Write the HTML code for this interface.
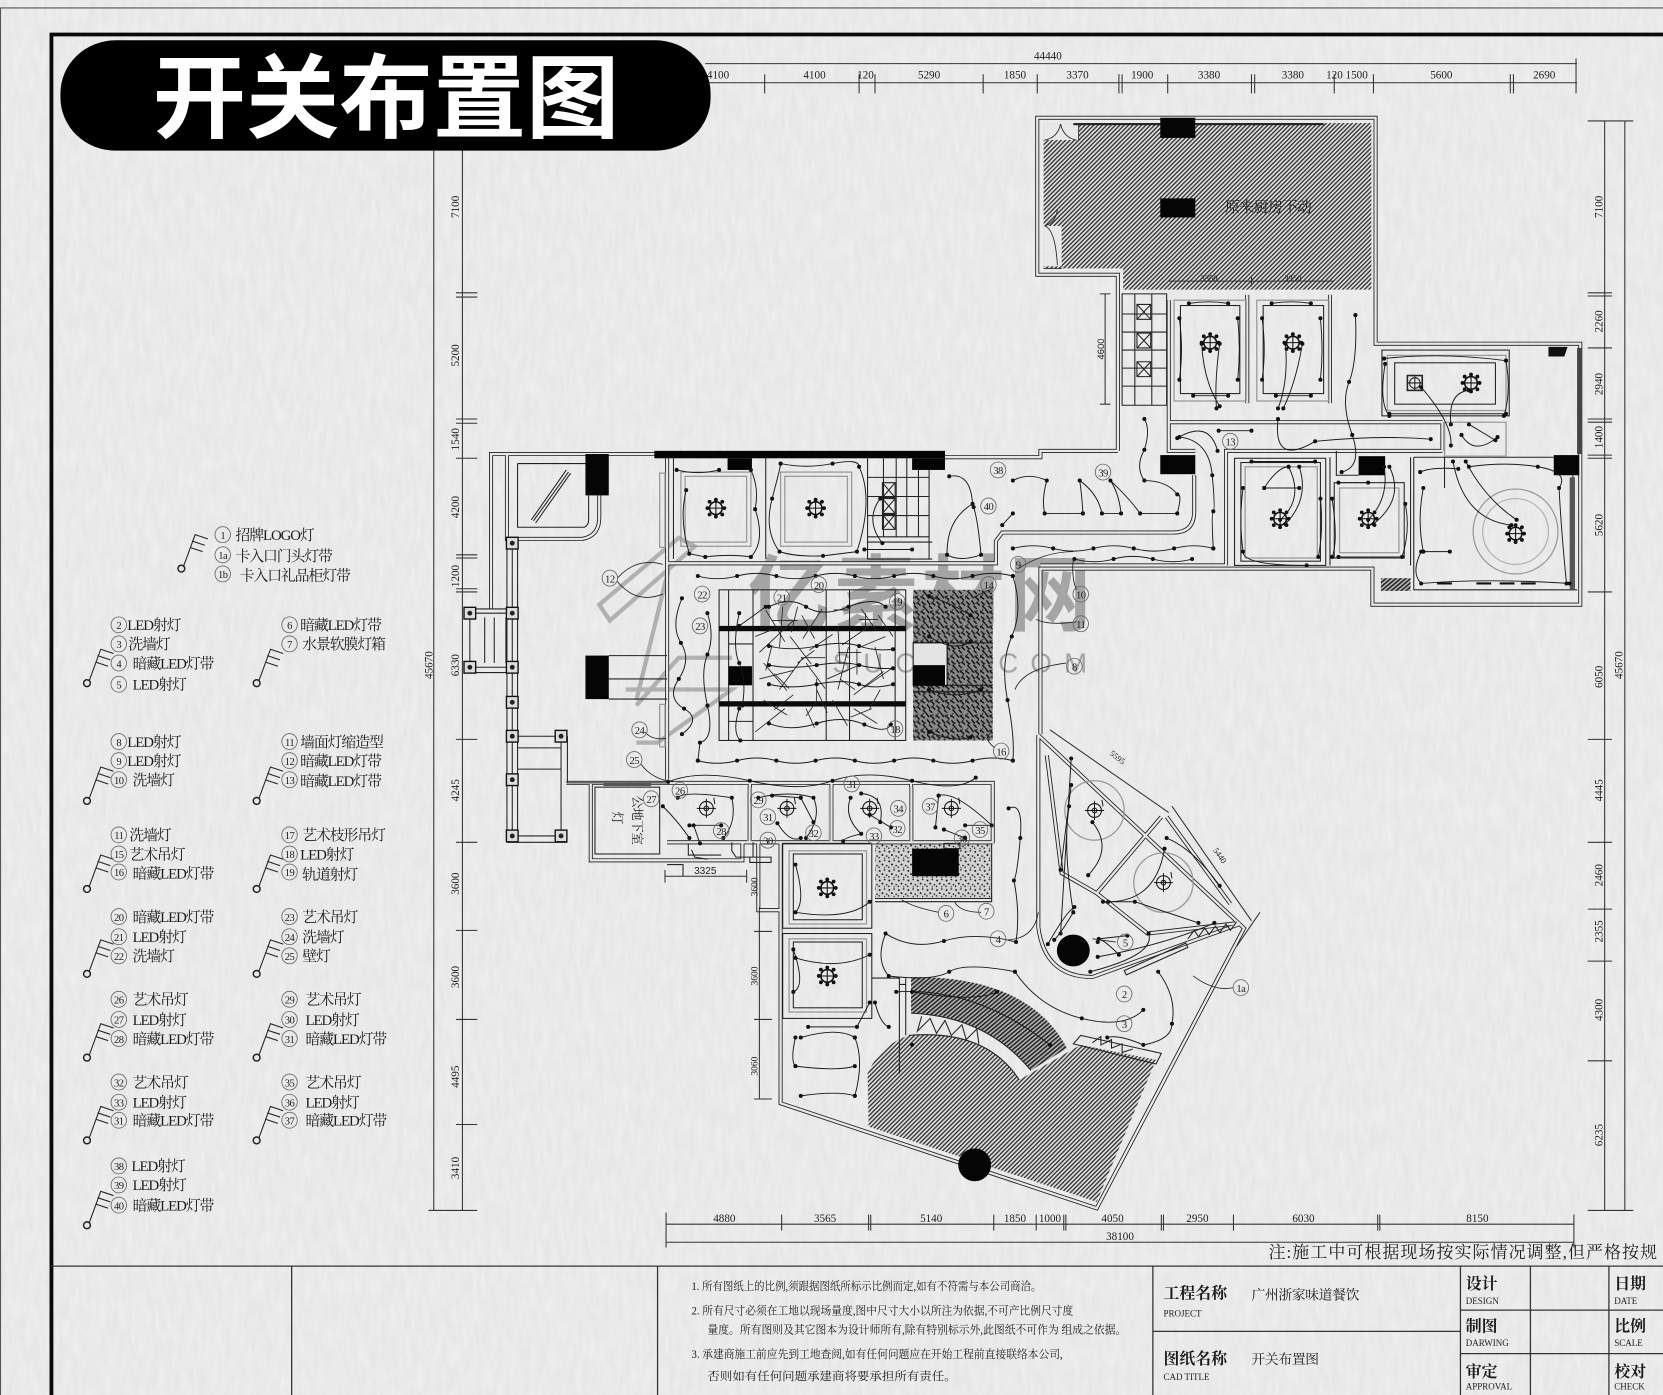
<!DOCTYPE html>
<html><head><meta charset="utf-8"><title>开关布置图</title>
<style>
html,body{margin:0;padding:0;background:#ececec;overflow:hidden}
svg{display:block;filter:blur(.35px)}
text{font-family:"Liberation Serif","Noto Serif CJK SC",serif;fill:#1c1c1c}
.d{font-family:"Liberation Sans","Noto Sans CJK SC",sans-serif;font-size:10.5px;fill:#222;text-anchor:middle}
.l{font-size:14px;letter-spacing:-1px}
.n{font-size:10px;text-anchor:middle;letter-spacing:-.5px}
.w{fill:none;stroke:#1a1a1a;stroke-width:.9;marker-start:url(#dot);marker-mid:url(#dot);marker-end:url(#dot)}
.p{fill:none;stroke:#222;stroke-width:.8}
.t{fill:none;stroke:#222;stroke-width:1}
.g{fill:none;stroke:#999;stroke-width:1.2}
.dm{fill:none;stroke:#333;stroke-width:1}
.tk{font-family:"Noto Sans CJK SC",sans-serif;font-weight:700;font-size:15px}
.sm{font-family:"Liberation Sans",sans-serif;font-size:8.5px;fill:#222}
.nt{font-size:10.5px;fill:#333}
</style></head><body>
<svg xmlns="http://www.w3.org/2000/svg" width="1663" height="1395" viewBox="0 0 1568 1315" preserveAspectRatio="none">
<defs>
<marker id="dot" markerUnits="userSpaceOnUse" markerWidth="5" markerHeight="5" refX="2.5" refY="2.5"><circle cx="2.5" cy="2.5" r="1.9" fill="#111"/></marker>
<pattern id="h1" width="2.9" height="2.9" patternUnits="userSpaceOnUse" patternTransform="rotate(-45)"><rect width="2.9" height="2.9" fill="#dcdcdc"/><rect width="2.9" height="1.25" fill="#333"/></pattern>
<pattern id="h2" width="3" height="3" patternUnits="userSpaceOnUse" patternTransform="rotate(-40)"><rect width="3" height="3" fill="#b4b4b4"/><rect width="3" height="1.45" fill="#222"/></pattern>
<pattern id="tx" width="14" height="14" patternUnits="userSpaceOnUse"><rect width="14" height="14" fill="#8a8a8a"/><path d="M0 2l4 3M5 0l3 4M9 2l4 4M1 7l3 3M6 6l3 4M11 8l3 3M2 11l3 3M8 11l3 3" stroke="#0a0a0a" stroke-width="1.3"/><path d="M3 0l-3 4M12 1l-3 3M5 9l-3 3M13 6l-3 3" stroke="#222" stroke-width=".9"/></pattern>
<pattern id="sp" width="9" height="9" patternUnits="userSpaceOnUse"><rect width="9" height="9" fill="#d2d2d2"/><circle cx="1.5" cy="2" r=".9" fill="#111"/><circle cx="6" cy="1" r=".8" fill="#222"/><circle cx="4" cy="5" r=".9" fill="#111"/><circle cx="8" cy="6" r=".8" fill="#222"/><circle cx="1" cy="7.5" r=".7" fill="#111"/><circle cx="6" cy="8" r=".6" fill="#111"/></pattern>
<filter id="paper" x="0" y="0" width="100%" height="100%"><feTurbulence type="fractalNoise" baseFrequency=".2 .035" numOctaves="3" seed="8"/><feColorMatrix values="0 0 0 0 .7  0 0 0 0 .7  0 0 0 0 .7  .9 0 0 0 -.33"/></filter>
<filter id="paper2" x="0" y="0" width="100%" height="100%"><feTurbulence type="fractalNoise" baseFrequency=".16 .045" numOctaves="3" seed="21"/><feColorMatrix values="0 0 0 0 1  0 0 0 0 1  0 0 0 0 1  .9 0 0 0 -.33"/></filter>
<ellipse id="c" cx="0" cy="0" rx="7.3" ry="7.5" fill="none" stroke="#666" stroke-width=".8"/>
<g id="sym" fill="none" stroke="#222" stroke-width="1"><circle r="3.2" stroke-width="1.4"/><path d="M2 -2L13 -32L25 -28M10 -26L22 -22M8 -20L20 -16"/></g>
<g id="ch"><circle r="6" fill="none" stroke="#111" stroke-width="1.5"/><path d="M-8 0H8M0 -8V8" stroke="#111" stroke-width="1"/><circle r="1.8" cx="8" fill="#111"/><circle r="1.8" cx="-8" fill="#111"/><circle r="1.8" cy="8" fill="#111"/><circle r="1.8" cy="-8" fill="#111"/><circle r="1.8" cx="6" cy="6" fill="#111"/><circle r="1.8" cx="-6" cy="6" fill="#111"/><circle r="1.8" cx="6" cy="-6" fill="#111"/><circle r="1.8" cx="-6" cy="-6" fill="#111"/></g>
<g id="sc"><circle r="6.5" fill="none" stroke="#111" stroke-width="1"/><circle r="2.2" fill="none" stroke="#111"/><path d="M-9 0H9M0 -9V9M7 -10l1 6" stroke="#111" stroke-width=".9"/></g>
<g id="pt"><rect x="-5.5" y="-5.5" width="11" height="11" fill="#ddd" stroke="#111" stroke-width="1.3"/><circle r="2.3" fill="#222"/></g>
<path id="wl" d="M1054 425V259H978V111H1297V324H1490V570H1294V536H981V692M1054 425H981V431H891M617 428H463V574M478 428V508H549Q565 505 565 488V467M1126 448V482Q1126 502 1106 502H945L939 510V531H629M1156 533V425H1360M1102 398H1360M1102 398V425H1127M629 431V735M534 738H936V795M557 738V811H700V795M629 794H936M736 795V1040L1034 1139L1173 875L979 693M979 693V874Q985 921 1030 921L1169 871M1095 770L1034 842L1082 880L1169 870M987 712L1001 823L1034 842M1100 770L1160 852M707 738V794M784 738V794M859 738V794M715 795V858H736M1156 533H981M1176 278V380M1102 283V425M1254 278V380M1360 398V425"/>
</defs>
<rect width="1568" height="1315" fill="#e9e9e9"/>
<rect width="1568" height="1315" filter="url(#paper)" opacity=".5"/>
<rect width="1568" height="1315" filter="url(#paper2)" opacity=".6"/>

<!-- watermark -->
<g opacity=".5" fill="none" stroke="#777" stroke-width="4"><path d="M565 570L640 507L655 515L575 585ZM565 570L575 585M632 530L600 660M600 665L640 620H690M590 650H690L620 700H600"/></g>
<text x="705" y="588" font-size="78" font-weight="700" style="font-family:'Noto Sans CJK SC',sans-serif;fill:#777" opacity=".6" letter-spacing="4">亿素材网</text>
<text x="785" y="634" font-size="26" style="font-family:'Liberation Sans',sans-serif;fill:#777" opacity=".6" textLength="240">SUCAI.COM</text>

<!-- frames -->
<path d="M0 7.5H1568M.5 7.5V1315" fill="none" stroke="#555" stroke-width="1"/>
<path d="M48.5 1315V32.5H1568" fill="none" stroke="#0a0a0a" stroke-width="3.6"/>

<!-- left dims -->
<path class="dm" d="M409 125V1141M436 125V1141M404 1141H450M430 276H450M430 280H450M430 395H450M430 399H450M430 432H450M430 523H450M430 526H450M430 555H450M430 558H450M430 697H450M430 794H450M430 877H450M430 961H450M430 1060H450"/>
<g class="d"><text transform="translate(433,195) rotate(-90)">7100</text><text transform="translate(433,335) rotate(-90)">5200</text><text transform="translate(433,414) rotate(-90)">1540</text><text transform="translate(433,478) rotate(-90)">4200</text><text transform="translate(433,543) rotate(-90)">1200</text><text transform="translate(433,627) rotate(-90)">6330</text><text transform="translate(433,745) rotate(-90)">4245</text><text transform="translate(433,833) rotate(-90)">3600</text><text transform="translate(433,921) rotate(-90)">3600</text><text transform="translate(433,1015) rotate(-90)">4495</text><text transform="translate(433,1101) rotate(-90)">3410</text><text transform="translate(408,627) rotate(-90)">45670</text></g>

<!-- top dims -->
<path class="dm" d="M665 60H1487M665 78H1487M721 70V88M810 70V88M825 70V88M927 70V88M978 70V88M1055 70V88M1058 70V88M1101 70V88M1180 70V88M1183 70V88M1258 70V88M1295 70V88M1424 70V88M1427 70V88M1486 55V88"/>
<g class="d"><text x="988" y="56">44440</text><text x="677" y="74">4100</text><text x="768" y="74">4100</text><text x="816" y="74">120</text><text x="876" y="74">5290</text><text x="957" y="74">1850</text><text x="1016" y="74">3370</text><text x="1077" y="74">1900</text><text x="1140" y="74">3380</text><text x="1219" y="74">3380</text><text x="1270" y="74">120 1500</text><text x="1359" y="74">5600</text><text x="1456" y="74">2690</text></g>

<!-- right dims -->
<path class="dm" d="M1513 114V1141M1532 114V1141M1497 114H1540M1497 276H1520M1497 279H1520M1497 328H1520M1497 395H1520M1497 398H1520M1497 429H1520M1497 432H1520M1497 558H1520M1497 697H1520M1497 794H1520M1497 857H1520M1497 906H1520M1497 1000H1520M1497 1141H1540"/>
<g class="d"><text transform="translate(1511,195) rotate(-90)">7100</text><text transform="translate(1511,303) rotate(-90)">2260</text><text transform="translate(1511,362) rotate(-90)">2940</text><text transform="translate(1511,412) rotate(-90)">1400</text><text transform="translate(1511,495) rotate(-90)">5620</text><text transform="translate(1511,638) rotate(-90)">6050</text><text transform="translate(1511,745) rotate(-90)">4445</text><text transform="translate(1511,825) rotate(-90)">2460</text><text transform="translate(1511,878) rotate(-90)">2355</text><text transform="translate(1511,952) rotate(-90)">4300</text><text transform="translate(1511,1070) rotate(-90)">6235</text><text transform="translate(1530,627) rotate(-90)">45670</text></g>

<!-- bottom dims -->
<path class="dm" d="M628 1154H1484M628 1171H1056M1056 1171H1484M628 1143V1176M737 1145V1160M819 1145V1160M821 1145V1160M937 1145V1160M977 1145V1160M1003 1145V1160M1005 1145V1160M1095 1145V1160M1097 1145V1160M1163 1145V1160M1299 1145V1160M1301 1145V1160M1484 1145V1176" stroke-width="1.3"/>
<g class="d"><text x="683" y="1152">4880</text><text x="778" y="1152">3565</text><text x="878" y="1152">5140</text><text x="957" y="1152">1850</text><text x="990" y="1152">1000</text><text x="1049" y="1152">4050</text><text x="1129" y="1152">2950</text><text x="1229" y="1152">6030</text><text x="1393" y="1152">8150</text><text x="1056" y="1169">38100</text></g>
<text x="1196" y="1186" font-size="16" letter-spacing="1">注:施工中可根据现场按实际情况调整,但严格按规</text>

<!-- hatches -->
<path d="M984 116H1293V273H1059V253H984Z" fill="url(#h1)"/>
<rect x="984" y="116" width="33" height="16" fill="#e8e8e8"/><rect x="984" y="213" width="17" height="38" fill="#e8e8e8"/>
<path d="M818 1012Q830 985 857 976Q930 970 961 1018L1019 985L1090 999L1034 1133L819 1062Z" fill="url(#h1)"/>
<path d="M859 921Q970 920 1006 988L972 1009Q930 958 859 955Z" fill="url(#h2)"/>
<path class="t" d="M859 955Q930 958 972 1009M857 976Q930 970 961 1018M869 958l-4 14 12-12 6 14 8-12 6 14 10-10 4 14 10-10 2 14M1019 976L1095 993L1090 1003L1012 984ZM1030 983l8-6 0 8 10-5 0 8 10-4 0 8 10-3"/>
<rect x="861" y="556" width="75" height="142" fill="url(#tx)"/>
<rect x="825" y="795" width="110" height="52" fill="url(#sp)"/>
<rect x="1302" y="545" width="28" height="12" fill="url(#h2)"/>

<!-- walls -->
<use href="#wl" fill="none" stroke="#1c1c1c" stroke-width="3.8"/>
<use href="#wl" fill="none" stroke="#e8e8e8" stroke-width="2.2"/>

<!-- kitchen fixtures -->
<rect x="1012" y="116" width="236" height="2" fill="#222"/>
<path class="p" d="M985 132Q997 130 1000 117M1015 132Q1003 130 1000 117M1017 116V132M985 213Q995 210 997 198M985 213Q995 216 997 250M984 253H1001"/>
<text x="1155" y="200" font-size="14" letter-spacing="-.4">原来厨房不动</text>
<path class="dm" d="M1102 265H1258M1180 260V270"/>
<g class="d" style="font-size:8px"><text x="1140" y="265">3350</text><text x="1219" y="265">3350</text></g>

<!-- stairs-like grid near kitchen -->
<path class="t" d="M1058 277H1100V382H1058ZM1058 296H1100M1058 313H1100M1058 330H1100M1058 347H1100M1058 364H1100M1070 277V382M1086 277V382"/>
<path class="t" stroke-width="1.2" d="M1072 287h13v14h-13zm0 0l13 14m0-14l-13 14M1072 314h13v14h-13zm0 0l13 14m0-14l-13 14M1072 341h13v14h-13zm0 0l13 14m0-14l-13 14"/>
<path class="dm" d="M1042 277V381M1037 277h10M1037 381h10"/>
<text class="d" transform="translate(1041,329) rotate(-90)" style="font-size:9px">4600</text>

<!-- upper rooms -->
<rect x="1107" y="283" width="68" height="95" class="g" stroke-width="2"/><rect x="1113" y="288" width="56" height="83" class="t" stroke-width="1.5"/>
<rect x="1185" y="283" width="68" height="95" class="g"/><rect x="1191" y="288" width="57" height="83" class="t"/>
<rect x="1303" y="330" width="120" height="62" class="t"/><rect x="1308" y="335" width="112" height="52" class="g"/><rect x="1315" y="342" width="95" height="39" class="t" stroke-width="1.5"/>
<rect x="1164" y="432" width="86" height="101" class="t"/><rect x="1170" y="436" width="75" height="93" class="t" stroke-width="1.5"/><rect x="1174" y="440" width="68" height="86" class="g"/>
<rect x="1258" y="455" width="66" height="71" class="t" stroke-width="1.5"/><rect x="1263" y="460" width="56" height="61" class="g"/>
<path class="t" d="M1333 431V556H1487M1333 431H1465M1483 448V556M1254 431V533M1330 431V533M1260 425V448H1281M1362 398V460" stroke-width="1.2"/>
<rect x="1487" y="328" width="4" height="100" fill="#444"/>
<rect x="1480" y="450" width="5" height="106" fill="#555"/>
<circle cx="1429" cy="501" r="40" class="g"/><circle cx="1429" cy="501" r="31" fill="none" stroke="#aaa"/>
<use href="#ch" x="1141" y="323"/><use href="#ch" x="1219" y="323"/><use href="#ch" x="1387" y="361"/><use href="#ch" x="1207" y="489"/><use href="#ch" x="1290" y="489"/><use href="#ch" x="1429" y="503"/>
<g fill="none" stroke="#222"><rect x="1327" y="354" width="14" height="14" stroke-width="1.5"/><circle cx="1334" cy="361" r="5"/><path d="M1327 361h14M1334 354v14"/></g>
<path d="M1460 327h18l-3 9h-15z" fill="#111"/>
<path class="g" d="M1362 398H1420V430H1362Z"/>
<path d="M1355 550h14M1392 550h14M1414 550h14M1434 550h14" stroke="#111" stroke-width="2"/>

<!-- left entrance -->
<path class="t" d="M488 437H553M488 437V497H551Q555 495 555 490V467"/>
<path class="t" d="M501 490L534 443M505 493L538 446M503 491L536 445"/>
<path class="t" stroke-width="1.2" d="M478 508V794M488 508V794M483 512V788M443 578V629M483 578H443M483 629H443M443 574H483M443 634H483M457 582V625M466 582V625M477 582V625M488 694H529M488 705H529M488 725H529M488 788H529M488 694V794M529 694V794M535 694V738H629M529 788V794M478 794H535"/>
<use href="#pt" x="483" y="512"/><use href="#pt" x="483" y="578"/><use href="#pt" x="443" y="578"/><use href="#pt" x="443" y="629"/><use href="#pt" x="483" y="629"/><use href="#pt" x="483" y="662"/><use href="#pt" x="483" y="694"/><use href="#pt" x="483" y="735"/><use href="#pt" x="483" y="788"/><use href="#pt" x="529" y="788"/><use href="#pt" x="529" y="694"/>
<path class="t" d="M574 618H629M574 640H629M574 659H629"/>
<rect x="622" y="446" width="5" height="70" class="g"/><rect x="622" y="664" width="5" height="40" class="g"/>

<!-- room row top -->
<rect x="642" y="445" width="66" height="70" class="g"/><rect x="646" y="449" width="58" height="62" class="g" stroke-width=".8"/>
<rect x="736" y="445" width="67" height="70" class="g"/><rect x="740" y="449" width="59" height="62" class="g" stroke-width=".8"/>
<path class="t" d="M722 432V527M818 432V527M635 432V527"/>
<use href="#ch" x="675" y="479"/><use href="#ch" x="769" y="479"/>
<path class="t" d="M818 450H876M818 468H876M818 486H876M818 506H876M833 432V506M845 432V506M855 432V506M866 432V506M876 432V527M818 511H879M818 527H879"/>
<path class="t" stroke-width="1.3" d="M832 455h12v14h-12zm0 0l12 14m0-14l-12 14M832 470h12v14h-12zm0 0l12 14m0-14l-12 14M832 485h12v14h-12zm0 0l12 14m0-14l-12 14"/>

<!-- main hall -->
<rect x="678" y="556" width="176" height="142" class="t"/>
<path class="t" d="M687 556V698M710 556V698M779 556V698M801 556V698M844 556V698M687 607H710M710 607V628M687 680H710"/>
<rect x="678" y="590" width="176" height="5" fill="#0a0a0a"/><rect x="678" y="661" width="176" height="5" fill="#0a0a0a"/>
<path class="t" d="M861 606H936M861 646H936M861 652H936"/><rect x="861" y="606" width="32" height="40" fill="#e4e4e4" stroke="#111"/>
<path class="p" d="M722 575l18 30M712 600l25-10M738 572l-3 38M748 585l-32 30M720 625l22 26M716 640l32-8M745 600l20 26M735 650l22-30M756 580l12 22M775 574l-18 28M785 598l-22 15M760 625l18 24M790 590l2 36M780 640l32-14M800 610l-10 40M812 574l14 20M820 590l-26 18M825 610l8 30M815 648l26-18M835 600l-24 10M805 655l28-22M770 650l10 22M748 655l-18 14M720 660l22 14M830 650l-10 18M760 668l8 18M805 668l22 14M785 660l14 24M822 668l-20 8M740 668l-28 22M730 635l14 14M792 640l14 10M828 580l14 20M728 585H752M722 632l6-24M755 620H778M752 625l16-12M786 575h14M790 615h22M808 612v24M770 640v22M810 584h18M816 578v16M752 572l-6 24M760 675l10-14"/>
<path class="w" d="M725 572Q745 562 760 572T800 572T835 572"/>
<path class="w" d="M725 609Q745 614 770 609T810 609T842 612M725 627Q745 631 770 627T810 627T842 630M725 645Q745 650 770 645T810 645T842 645"/>
<path class="w" d="M725 682Q745 690 770 682T815 683T840 683M697 668Q690 690 698 698"/>

<!-- lower row rooms -->
<path class="g" d="M705 742V793M708 742V793M782 742V793M785 742V793M858 742V793M861 742V793"/>
<use href="#sc" x="666" y="762"/><use href="#sc" x="742" y="762"/><use href="#sc" x="820" y="762"/><use href="#sc" x="897" y="762"/>
<rect x="561" y="742" width="61" height="63" class="t"/>
<rect x="569" y="738" width="45" height="3" fill="#555"/>
<text transform="translate(597,750) rotate(90)" font-size="12" letter-spacing="-.5">公地下室</text>
<text transform="translate(578,765) rotate(90)" font-size="12">灯</text>
<path class="t" d="M649 795V806H680M652 801l3 7 12 2M690 794v8l4 6h16M710 794v14M707 808h20v5h-20zM629 815H644V826"/>
<path class="dm" d="M627 826H704M627 820V832M704 820V832"/><text class="d" x="665" y="824" style="font-size:9.5px">3325</text>

<!-- lower rooms -->
<rect x="738" y="795" width="84" height="80" class="t" stroke-width="1.5"/><rect x="744" y="802" width="73" height="69" class="g"/><rect x="748" y="805" width="65" height="62" class="t"/>
<rect x="738" y="880" width="84" height="80" class="t" stroke-width="1.5"/><rect x="744" y="885" width="73" height="69" class="g"/><rect x="748" y="888" width="65" height="62" class="t"/>
<use href="#ch" x="780" y="837"/><use href="#ch" x="780" y="920"/>
<path class="t" d="M825 847H935V850H825M935 795V850M890 800h15v-5h-15z"/>
<path class="dm" d="M716 855V1036M711 878H728M711 961H728M711 1036H728"/>
<g class="d" style="font-size:9px"><text transform="translate(714,836) rotate(-90)">3600</text><text transform="translate(714,920) rotate(-90)">3600</text><text transform="translate(714,1005) rotate(-90)">3060</text></g>
<path class="t" d="M822 922H848V1012M854 922V976M848 928h6"/>

<!-- wedge rooms -->
<circle cx="1032" cy="764" r="28" class="g"/><circle cx="1097" cy="832" r="28" class="g"/>
<use href="#sc" x="1032" y="764"/><use href="#sc" x="1097" y="832"/>
<path class="dm" d="M990 688L1102 766M1105 760L1180 868M1166 892L1188 860"/>
<g class="d" style="font-size:8px"><text transform="translate(1052,716) rotate(38)">5595</text><text transform="translate(1148,808) rotate(55)">5440</text></g>
<path class="t" d="M1060 915L1118 889L1120 893L1062 919ZM1120 885l6-8 4 6 6-8 4 6 6-8 4 6 6-8 4 6 6-8"/>

<!-- black blocks -->
<g fill="#050505">
<rect x="617" y="425" width="274" height="7"/>
<rect x="1094" y="111" width="33" height="19"/><rect x="1094" y="187" width="33" height="18"/><rect x="1094" y="429" width="33" height="18"/><rect x="1281" y="430" width="25" height="18"/><rect x="1465" y="429" width="24" height="19"/>
<rect x="552" y="428" width="22" height="39"/><rect x="686" y="432" width="23" height="11"/><rect x="860" y="432" width="31" height="11"/><rect x="552" y="618" width="22" height="41"/><rect x="687" y="628" width="22" height="18"/><rect x="861" y="627" width="30" height="19"/><rect x="860" y="800" width="44" height="26"/>
<ellipse cx="1012" cy="896" rx="15.5" ry="15"/><ellipse cx="919" cy="1098" rx="15.5" ry="15.5"/>
</g>

<!-- wires -->
<path class="w" d="M658 543Q676 548 695 543T732 543T769 543T806 543T843 543T880 543T917 543T955 543"/>
<path class="w" d="M658 717Q676 722 695 717T732 717T769 717T806 717T843 717T880 717T917 717T955 717"/>
<path class="w" d="M955 543Q965 575 954 600T950 660T955 717"/>
<path class="w" d="M667 578Q674 600 667 617T667 665T660 700L658 717"/>
<path class="w" d="M643 564Q632 590 642 606T640 640T645 668T643 692"/>
<path class="w" d="M697 578Q690 610 697 625T700 665M697 590L722 572"/>
<path class="w" d="M876 562Q900 570 915 580M876 600Q900 615 915 605M876 650Q900 660 925 650M876 690Q900 700 915 695"/>
<path class="w" d="M638 443Q658 448 678 443M647 462Q640 490 650 522L665 525Q688 522 708 525Q722 510 712 480Q716 460 708 443"/>
<path class="w" d="M736 437Q760 442 785 437T810 440Q824 470 808 520L776 524Q750 525 735 520Q720 500 728 470T736 437"/>
<path class="w" d="M830 470Q815 490 832 512M815 518H860"/>
<path class="w" d="M895 449Q915 445 917 475Q892 490 893 523Q905 530 925 523Q922 490 918 478"/>
<path class="w" d="M955 453Q970 445 987 453Q982 470 985 484H1021M1021 484Q1020 465 1018 453Q1035 465 1039 484H1057Q1055 465 1047 453Q1065 470 1075 484H1110Q1115 465 1110 466Q1100 453 1079 453Q1070 440 1079 424Q1085 405 1079 395"/>
<path class="w" d="M955 484L945 495"/>
<path class="w" d="M955 517Q974 512 993 517T1031 517T1069 517T1107 517T1144 517"/>
<path class="w" d="M1013 527Q1032 532 1050 527T1087 527T1124 527"/>
<path class="w" d="M1112 412Q1140 415 1143 448T1144 482T1144 517"/>
<path class="w" d="M1121 286Q1140 283 1158 286M1112 300Q1116 330 1112 358M1167 300Q1170 330 1167 358M1125 373H1158M1133 324Q1135 360 1150 383M1150 324Q1145 360 1147 385"/>
<path class="w" d="M1199 286Q1218 283 1236 286M1190 300Q1194 330 1190 358M1245 300Q1248 330 1245 358M1203 373H1236M1212 324Q1215 360 1205 385M1228 324Q1222 360 1210 385"/>
<path class="w" d="M1149 406H1180M1205 395Q1200 440 1240 416Q1300 410 1349 414M1110 413Q1140 395 1148 425"/>
<path class="w" d="M1278 297Q1280 340 1272 360T1275 410Q1285 440 1265 445"/>
<path class="w" d="M1305 338Q1360 332 1420 340M1306 343Q1300 380 1310 392M1420 340Q1425 370 1418 392M1310 390H1420M1340 365Q1370 400 1368 420M1385 368Q1365 370 1368 400M1385 400L1410 415M1378 410Q1390 430 1412 412"/>
<path class="w" d="M1180 435H1240M1172 460Q1168 490 1172 520Q1172 533 1232 533M1245 470Q1248 500 1243 525M1192 460Q1205 440 1215 440M1192 460H1225M1215 440Q1230 470 1207 490M1225 440Q1235 470 1212 494"/>
<path class="w" d="M1262 455H1290M1256 470Q1262 510 1256 525M1325 475Q1330 500 1322 525H1262M1305 440Q1310 470 1290 490M1310 440Q1325 470 1295 494"/>
<path class="w" d="M1339 445Q1350 440 1375 442M1342 460Q1336 490 1342 520M1342 520H1367M1340 520Q1330 540 1340 550Q1400 545 1480 550M1370 435Q1380 490 1425 495M1382 435Q1400 470 1430 490M1385 440Q1420 435 1450 440T1470 460Q1472 500 1477 550"/>
<path class="w" d="M630 737Q660 725 707 736T785 736T860 736T920 733"/>
<path class="w" d="M639 752Q645 745 690 752Q695 775 682 790M650 778H680M654 778L660 795M625 760Q640 775 650 790"/>
<path class="w" d="M715 752Q745 745 767 752Q775 770 760 790M733 776Q745 795 755 790M728 750L755 752M755 752L767 775"/>
<path class="w" d="M802 752Q795 770 812 786Q795 790 795 793M812 748Q835 750 830 775M820 768L840 780"/>
<path class="w" d="M885 750Q900 745 935 778L910 778M885 750L882 780M890 782L910 790"/>
<path class="w" d="M951 762Q965 755 962 790T956 830Q962 860 958 888Q920 878 890 887T835 880Q825 905 838 920Q880 925 895 916T957 916"/>
<path class="w" d="M750 815Q760 850 750 860Q800 868 820 850M748 895Q760 930 748 935M750 903Q790 915 820 900"/>
<path class="w" d="M825 945Q830 965 838 968M762 968H808L820 945M755 978Q790 968 806 978M750 1005Q790 1010 806 1005M806 978Q815 1000 806 1033M755 1033Q790 1028 806 1033M750 978Q745 1000 750 1005"/>
<path class="w" d="M860 935Q920 945 940 935M845 935Q920 930 990 985M860 985"/>
<path class="w" d="M1010 715L1000 880M1008 760Q1002 800 1012 860Q1000 880 994 886"/>
<path class="w" d="M1083 880Q1090 900 1028 916M1063 882L1036 885M1055 900Q1035 880 1035 888M1035 902Q1100 890 1145 870"/>
<path class="w" d="M988 890Q1005 860 1013 855"/>
<path class="w" d="M957 916Q980 950 1020 960Q1060 970 1078 952M1092 916Q1110 940 1105 965Q1105 980 1078 985Q1055 975 1044 978"/>
<path class="w" d="M1030 775Q1050 800 1026 825M1010 740Q1000 820 1000 820M1098 800Q1090 850 1045 850"/>
<path class="w" d="M1100 790Q1125 800 1150 835M1040 850L1070 850L1130 870"/>

<!-- thin leader lines -->
<path class="p" d="M582 545Q600 525 625 532M582 548Q600 570 625 560M608 690Q615 698 628 696M604 720Q615 735 635 737M935 555L920 562M960 536Q985 520 1012 520M1015 556Q1010 545 1012 527M1015 586Q990 590 977 584M1005 625Q965 630 957 650M950 886Q975 885 979 860M1052 888L1030 885M1163 931Q1145 935 1125 920M885 860Q860 855 850 848M925 860Q905 860 900 850M938 705Q925 695 936 690"/>

<!-- plan labels -->
<g>
<use href="#c" x="941" y="443"/><use href="#c" x="1040" y="445"/><use href="#c" x="932" y="477"/><use href="#c" x="1160" y="416"/><use href="#c" x="960" y="532"/><use href="#c" x="1019" y="560"/><use href="#c" x="1019" y="588"/><use href="#c" x="1013" y="628"/><use href="#c" x="575" y="545"/><use href="#c" x="662" y="560"/><use href="#c" x="737" y="563"/><use href="#c" x="772" y="551"/><use href="#c" x="846" y="567"/><use href="#c" x="932" y="551"/><use href="#c" x="660" y="590"/><use href="#c" x="844" y="687"/><use href="#c" x="603" y="688"/><use href="#c" x="598" y="716"/><use href="#c" x="944" y="708"/><use href="#c" x="641" y="745"/><use href="#c" x="614" y="753"/><use href="#c" x="680" y="783"/><use href="#c" x="715" y="754"/><use href="#c" x="724" y="770"/><use href="#c" x="724" y="792"/><use href="#c" x="767" y="785"/><use href="#c" x="803" y="739"/><use href="#c" x="847" y="762"/><use href="#c" x="846" y="781"/><use href="#c" x="824" y="788"/><use href="#c" x="877" y="760"/><use href="#c" x="924" y="782"/><use href="#c" x="907" y="790"/><use href="#c" x="941" y="885"/><use href="#c" x="1061" y="888"/><use href="#c" x="1060" y="937"/><use href="#c" x="1060" y="965"/><use href="#c" x="1170" y="931"/><use href="#c" x="892" y="861"/><use href="#c" x="930" y="859"/>
</g>
<g class="n"><text x="941" y="447">38</text><text x="1040" y="449">39</text><text x="932" y="481">40</text><text x="1160" y="420">13</text><text x="960" y="536">9</text><text x="1019" y="564">10</text><text x="1019" y="592">11</text><text x="1013" y="632">8</text><text x="575" y="549">12</text><text x="662" y="564">22</text><text x="737" y="567">21</text><text x="772" y="555">20</text><text x="846" y="571">19</text><text x="932" y="555">14</text><text x="660" y="594">23</text><text x="844" y="691">18</text><text x="603" y="692">24</text><text x="598" y="720">25</text><text x="944" y="712">16</text><text x="641" y="749">26</text><text x="614" y="757">27</text><text x="680" y="787">28</text><text x="715" y="758">29</text><text x="724" y="774">31</text><text x="724" y="796">30</text><text x="767" y="789">32</text><text x="803" y="743">31</text><text x="847" y="766">34</text><text x="846" y="785">32</text><text x="824" y="792">33</text><text x="877" y="764">37</text><text x="924" y="786">35</text><text x="907" y="794">36</text><text x="941" y="889">4</text><text x="1061" y="892">5</text><text x="1060" y="941">2</text><text x="1060" y="969">3</text><text x="1170" y="935">1a</text><text x="892" y="865">6</text><text x="930" y="863">7</text></g>

<!-- legend -->
<use href="#sym" x="171" y="536"/>
<use href="#c" x="210" y="504"/><use href="#c" x="210" y="523"/><use href="#c" x="210" y="541"/>
<g class="n"><text x="210" y="508">1</text><text x="210" y="527">1a</text><text x="210" y="545">1b</text></g>
<g class="l"><text x="222" y="509">招牌LOGO灯</text><text x="222" y="529">卡入口门头灯带</text><text x="226" y="547">卡入口礼品柜灯带</text></g>
<use href="#sym" x="82" y="644"/><use href="#sym" x="242" y="644"/><use href="#sym" x="82" y="755"/><use href="#sym" x="242" y="755"/><use href="#sym" x="82" y="838"/><use href="#sym" x="242" y="838"/><use href="#sym" x="82" y="918"/><use href="#sym" x="242" y="918"/><use href="#sym" x="82" y="997"/><use href="#sym" x="242" y="997"/><use href="#sym" x="82" y="1075"/><use href="#sym" x="242" y="1075"/><use href="#sym" x="82" y="1155"/>
<use href="#c" x="112" y="589"/><use href="#c" x="112" y="607"/><use href="#c" x="112" y="625"/><use href="#c" x="112" y="645"/><use href="#c" x="273" y="589"/><use href="#c" x="273" y="607"/><use href="#c" x="112" y="699"/><use href="#c" x="112" y="717"/><use href="#c" x="112" y="735"/><use href="#c" x="273" y="699"/><use href="#c" x="273" y="717"/><use href="#c" x="273" y="735"/><use href="#c" x="112" y="787"/><use href="#c" x="112" y="805"/><use href="#c" x="112" y="822"/><use href="#c" x="273" y="787"/><use href="#c" x="273" y="805"/><use href="#c" x="273" y="822"/><use href="#c" x="112" y="864"/><use href="#c" x="112" y="883"/><use href="#c" x="112" y="901"/><use href="#c" x="273" y="864"/><use href="#c" x="273" y="883"/><use href="#c" x="273" y="901"/><use href="#c" x="112" y="942"/><use href="#c" x="112" y="961"/><use href="#c" x="112" y="979"/><use href="#c" x="273" y="942"/><use href="#c" x="273" y="961"/><use href="#c" x="273" y="979"/><use href="#c" x="112" y="1020"/><use href="#c" x="112" y="1039"/><use href="#c" x="112" y="1056"/><use href="#c" x="273" y="1020"/><use href="#c" x="273" y="1039"/><use href="#c" x="273" y="1056"/><use href="#c" x="112" y="1099"/><use href="#c" x="112" y="1117"/><use href="#c" x="112" y="1136"/>
<g class="n"><text x="112" y="593">2</text><text x="112" y="611">3</text><text x="112" y="629">4</text><text x="112" y="649">5</text><text x="273" y="593">6</text><text x="273" y="611">7</text><text x="112" y="703">8</text><text x="112" y="721">9</text><text x="112" y="739">10</text><text x="273" y="703">11</text><text x="273" y="721">12</text><text x="273" y="739">13</text><text x="112" y="791">11</text><text x="112" y="809">15</text><text x="112" y="826">16</text><text x="273" y="791">17</text><text x="273" y="809">18</text><text x="273" y="826">19</text><text x="112" y="868">20</text><text x="112" y="887">21</text><text x="112" y="905">22</text><text x="273" y="868">23</text><text x="273" y="887">24</text><text x="273" y="905">25</text><text x="112" y="946">26</text><text x="112" y="965">27</text><text x="112" y="983">28</text><text x="273" y="946">29</text><text x="273" y="965">30</text><text x="273" y="983">31</text><text x="112" y="1024">32</text><text x="112" y="1043">33</text><text x="112" y="1060">31</text><text x="273" y="1024">35</text><text x="273" y="1043">36</text><text x="273" y="1060">37</text><text x="112" y="1103">38</text><text x="112" y="1121">39</text><text x="112" y="1140">40</text></g>
<g class="l">
<text x="120" y="594">LED射灯</text><text x="121" y="612">洗墙灯</text><text x="125" y="630">暗藏LED灯带</text><text x="125" y="650">LED射灯</text>
<text x="283" y="594">暗藏LED灯带</text><text x="285" y="612">水景软膜灯箱</text>
<text x="120" y="704">LED射灯</text><text x="120" y="722">LED射灯</text><text x="125" y="740">洗墙灯</text>
<text x="283" y="704">墙面灯缩造型</text><text x="283" y="722">暗藏LED灯带</text><text x="283" y="741">暗藏LED灯带</text>
<text x="122" y="792">洗墙灯</text><text x="122" y="810">艺术吊灯</text><text x="125" y="828">暗藏LED灯带</text>
<text x="285" y="792">艺术枝形吊灯</text><text x="283" y="810">LED射灯</text><text x="285" y="829">轨道射灯</text>
<text x="125" y="869">暗藏LED灯带</text><text x="125" y="888">LED射灯</text><text x="125" y="906">洗墙灯</text>
<text x="285" y="869">艺术吊灯</text><text x="285" y="888">洗墙灯</text><text x="285" y="906">壁灯</text>
<text x="125" y="947">艺术吊灯</text><text x="125" y="966">LED射灯</text><text x="125" y="984">暗藏LED灯带</text>
<text x="288" y="947">艺术吊灯</text><text x="288" y="966">LED射灯</text><text x="288" y="984">暗藏LED灯带</text>
<text x="125" y="1025">艺术吊灯</text><text x="125" y="1044">LED射灯</text><text x="125" y="1061">暗藏LED灯带</text>
<text x="288" y="1025">艺术吊灯</text><text x="288" y="1044">LED射灯</text><text x="288" y="1061">暗藏LED灯带</text>
<text x="124" y="1104">LED射灯</text><text x="125" y="1122">LED射灯</text><text x="125" y="1141">暗藏LED灯带</text>
</g>

<!-- pill -->
<rect x="57" y="38" width="613" height="104" rx="52" ry="50" fill="#000"/>
<text x="144" y="123" font-size="86" font-weight="700" style="font-family:'Noto Sans CJK SC','WenQuanYi Zen Hei',sans-serif;fill:#fff" textLength="440" lengthAdjust="spacingAndGlyphs">开关布置图</text>

<!-- title block -->
<path fill="none" stroke="#333" stroke-width="1.2" d="M48 1193.5H1568M275 1193.5V1315M620 1193.5V1315M1087 1193.5V1315M1377 1193.5V1315M1443 1193.5V1315M1517 1193.5V1315M1087 1255H1377M1377 1235H1568M1377 1276H1568"/>
<g class="nt">
<text x="652" y="1216" textLength="330" lengthAdjust="spacingAndGlyphs">1.  所有图纸上的比例,须跟据图纸所标示比例而定,如有不符需与本公司商洽。</text>
<text x="652" y="1239" textLength="360" lengthAdjust="spacingAndGlyphs">2.  所有尺寸必须在工地以现场量度,图中尺寸大小以所注为依据,不可产比例尺寸度</text>
<text x="667" y="1257" textLength="395" lengthAdjust="spacingAndGlyphs">量度。所有图则及其它图本为设计师所有,除有特别标示外,此图纸不可作为 组成之依据。</text>
<text x="652" y="1280" textLength="350" lengthAdjust="spacingAndGlyphs">3.  承建商施工前应先到工地查阅,如有任何问题应在开始工程前直接联络本公司,</text>
<text x="667" y="1301" textLength="235" lengthAdjust="spacingAndGlyphs">否则如有任何问题承建商将要承担所有责任。</text>
</g>
<g class="tk">
<text x="1097" y="1224">工程名称</text><text x="1097" y="1286">图纸名称</text><text x="1382" y="1215">设计</text><text x="1382" y="1255">制图</text><text x="1382" y="1298">审定</text><text x="1522" y="1215">日期</text><text x="1522" y="1255">比例</text><text x="1522" y="1298">校对</text>
</g>
<g class="sm">
<text x="1097" y="1241">PROJECT</text><text x="1097" y="1301">CAD TITLE</text><text x="1382" y="1229">DESIGN</text><text x="1382" y="1269">DARWING</text><text x="1382" y="1310">APPROVAL</text><text x="1522" y="1229">DATE</text><text x="1522" y="1269">SCALE</text><text x="1522" y="1310">CHECK</text>
</g>
<text x="1180" y="1225" font-size="13" letter-spacing="-.3">广州浙家味道餐饮</text>
<text x="1180" y="1286" font-size="13" letter-spacing="-.3">开关布置图</text>
</svg>
</body></html>
